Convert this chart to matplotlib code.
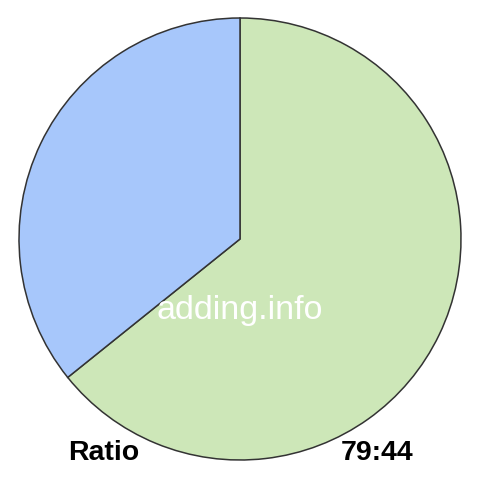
import matplotlib.pyplot as plt

# Data
labels = ["79", "44"]
values = [79, 44]
colors = ["#cde7b8", "#a7c7fb"]
ratio_text = "79:44"

plt.rcParams["font.family"] = ["Liberation Sans", "DejaVu Sans"]

fig = plt.figure(figsize=(4.8, 4.8), dpi=100)
ax = fig.add_axes([0, 0, 1, 1])

ax.pie(
    values,
    colors=colors,
    startangle=90,
    counterclock=False,
    center=(240, 241),
    radius=221,
    frame=True,
    wedgeprops={"edgecolor": "#333333", "linewidth": 1.1}
)
ax.set_xlim(0, 480)
ax.set_ylim(0, 480)
ax.set_aspect("equal")
ax.axis("off")

# watermark
ax.text(240, 170, "adding.info", color="white", fontsize=24.5,
        ha="center", va="center")

ax.text(68, 27, "Ratio", fontsize=20.5, fontweight="bold",
        ha="left", va="center")
ax.text(413, 27, ratio_text, fontsize=20.5, fontweight="bold",
        ha="right", va="center")

fig.savefig("out.png", dpi=100)
